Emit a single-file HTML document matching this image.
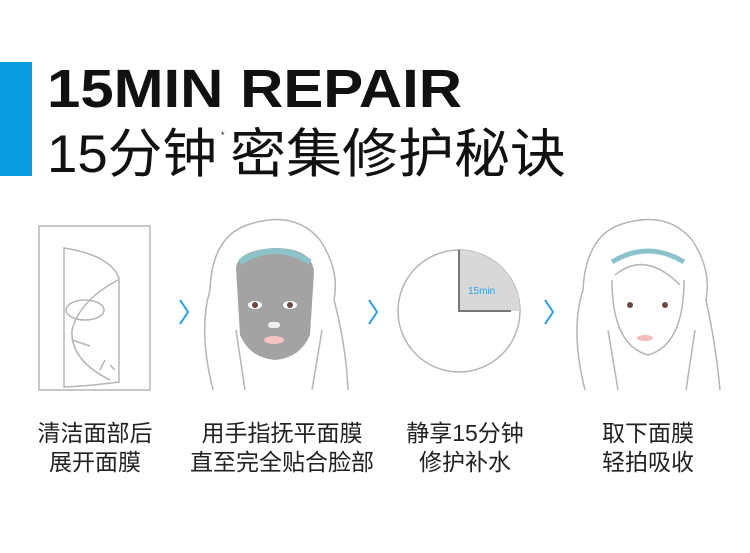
<!DOCTYPE html>
<html><head><meta charset="utf-8"><style>
body{margin:0;background:#fff;width:750px;height:548px;overflow:hidden;font-family:"Liberation Sans","Noto Sans CJK SC",sans-serif}
</style></head><body>
<svg width="750" height="548" viewBox="0 0 750 548" xmlns="http://www.w3.org/2000/svg">
<rect x="0" y="62" width="32" height="114" fill="#0a9be0"/>
<text x="47" y="107" font-family="Liberation Sans, Noto Sans CJK SC, sans-serif" font-weight="bold" font-size="54" fill="#111" textLength="415" lengthAdjust="spacingAndGlyphs">15MIN REPAIR</text>
<text x="47" y="172" font-family="Liberation Sans, Noto Sans CJK SC, sans-serif" font-size="53" fill="#111" textLength="170" lengthAdjust="spacingAndGlyphs">15分钟</text>
<text x="221" y="138" font-size="9" fill="#111">*</text>
<text x="230" y="172" font-family="Noto Sans CJK SC, sans-serif" font-size="53" fill="#111" textLength="336" lengthAdjust="spacingAndGlyphs">密集修护秘诀</text>
<!-- packet -->
<g fill="none" stroke="#b5b5b5" stroke-width="1.5">
<path d="M39 226 H150 V390 H39 Z"/>
<path d="M64 248 Q110 255 119 278 V382 Q90 386 64 387 Z"/>
<path d="M118 280 Q80 300 72 330 Q70 360 110 380"/>
<ellipse cx="85" cy="310" rx="19" ry="10"/>
<path d="M72 340 L90 346 M100 370 L105 360 M115 370 L110 365"/>
</g>
<!-- arrows -->
<g fill="none" stroke="#2aa0e8" stroke-width="2">
<path d="M180 300 L188 312 L180 324"/>
<path d="M369 300 L377 312 L369 324"/>
<path d="M545 300 L553 312 L545 324"/>
</g>
<!-- face 1 -->
<g fill="none" stroke="#b5b5b5" stroke-width="1.5">
<path d="M213 390 Q198 330 210 290 Q212 235 250 224 Q295 210 320 240 Q340 270 334 300 Q346 345 348 390"/>
<path d="M245 390 L236 330 M312 390 L322 330"/>
</g>
<path d="M236 268 Q238 250 275 248 Q312 248 314 272 L310 335 Q300 358 275 360 Q250 358 240 335 Z" fill="#a3a3a3"/>
<path d="M240 262 Q275 240 310 262" stroke="#8cc3cb" stroke-width="6" fill="none"/>
<ellipse cx="255" cy="305" rx="7" ry="4" fill="#fff"/><circle cx="255" cy="305" r="3" fill="#6b4a3e"/>
<ellipse cx="290" cy="305" rx="7" ry="4" fill="#fff"/><circle cx="290" cy="305" r="3" fill="#6b4a3e"/>
<rect x="268" y="322" width="12" height="6" rx="3" fill="#eee"/>
<ellipse cx="274" cy="340" rx="10" ry="4" fill="#f4c4c0"/>
<!-- clock -->
<circle cx="459" cy="311" r="61" fill="#fff" stroke="#b5b5b5" stroke-width="1.5"/>
<path d="M459 311 V250 A61 61 0 0 1 520 311 Z" fill="#d8d8d8"/>
<path d="M459 250 V311 H511" fill="none" stroke="#777" stroke-width="2"/>
<text x="468" y="294" font-size="10" fill="#2aa0e8">15min</text>
<!-- face 2 -->
<g fill="none" stroke="#b5b5b5" stroke-width="1.5">
<path d="M585 390 Q570 330 583 290 Q586 235 622 224 Q667 210 692 240 Q712 270 706 300 Q716 345 720 390"/>
<path d="M618 390 L608 330 M686 390 L695 330"/>
<path d="M612 280 Q612 345 648 355 Q684 345 684 280"/>
<path d="M615 275 Q645 250 680 285"/>
</g>
<path d="M612 262 Q648 240 684 262" stroke="#8cc3cb" stroke-width="5" fill="none"/>
<circle cx="630" cy="305" r="3" fill="#6b4a3e"/><circle cx="665" cy="305" r="3" fill="#6b4a3e"/>
<ellipse cx="645" cy="338" rx="8" ry="3" fill="#f2bdb8"/>
<g font-family="Liberation Sans, Noto Sans CJK SC, sans-serif" font-size="23" fill="#222" text-anchor="middle">
<text x="95" y="441">清洁面部后</text><text x="95" y="470">展开面膜</text>
<text x="282" y="441">用手指抚平面膜</text><text x="282" y="470">直至完全贴合脸部</text>
<text x="465" y="441">静享15分钟</text><text x="465" y="470">修护补水</text>
<text x="648" y="441">取下面膜</text><text x="648" y="470">轻拍吸收</text>
</g>
</svg>
</body></html>
